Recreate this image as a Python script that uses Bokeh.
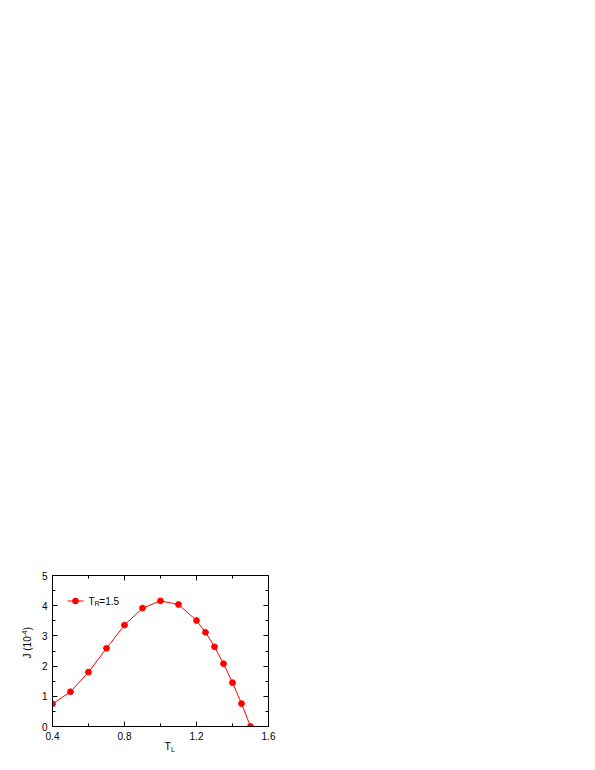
import math
from bokeh.plotting import figure
from bokeh.models import Range1d, FixedTicker, LinearAxis, Label
from bokeh.embed import file_html
from bokeh.resources import INLINE

# ---- data ----
t_left = [0.4, 0.5, 0.6, 0.7, 0.8, 0.9, 1.0, 1.1, 1.2, 1.25, 1.3, 1.35, 1.4, 1.45, 1.5]
current = [0.75, 1.15, 1.80, 2.59, 3.36, 3.92, 4.16, 4.04, 3.51, 3.12, 2.64, 2.08, 1.45, 0.76, 0.0]
x_major = [0.4, 0.8, 1.2, 1.6]
x_minor = [0.6, 1.0, 1.4]
y_major = [0, 1, 2, 3, 4, 5]
y_minor = [0.5, 1.5, 2.5, 3.5, 4.5]
series_label = ("T", "R", "=1.5")
x_title = ("T", "L")
y_title = ("J (10", "-4", ")")

FONT = "Liberation Sans"
RED = "#ff0000"

# frame geometry (page px)
FL, FR, FT, FB = 52, 268, 575, 726
XMIN, XMAX, YMIN, YMAX = 0.4, 1.6, 0.0, 5.0

p = figure(output_backend="svg", toolbar_location=None,
           frame_width=FR - FL, frame_height=FB - FT,
           min_border_left=FL, min_border_top=FT,
           min_border_right=20, min_border_bottom=36,
           x_range=Range1d(XMIN, XMAX), y_range=Range1d(YMIN, YMAX))
p.background_fill_color = "white"
p.border_fill_color = "white"
p.outline_line_color = "black"
p.outline_line_width = 1
p.xgrid.visible = False
p.ygrid.visible = False

def px2x(px):
    return XMIN + (px - FL) * (XMAX - XMIN) / (FR - FL)

def py2y(py):
    return YMIN + (FB - py) * (YMAX - YMIN) / (FB - FT)

def style_axis(ax, major, minor, labels=True):
    ax.ticker = FixedTicker(ticks=major, minor_ticks=minor)
    ax.major_tick_in = 5
    ax.major_tick_out = 0
    ax.minor_tick_in = 3
    ax.minor_tick_out = 0
    ax.axis_line_color = "black"
    ax.major_tick_line_color = "black"
    ax.minor_tick_line_color = "black"
    if labels:
        ax.major_label_text_font = FONT
        ax.major_label_text_font_size = "10px"
        ax.major_label_text_color = "black"
        ax.major_label_standoff = 5
    else:
        ax.major_label_text_color = None
        ax.major_label_text_font_size = "1px"
        ax.major_label_standoff = 0

style_axis(p.xaxis[0], x_major, x_minor)
style_axis(p.yaxis[0], y_major, y_minor)
p.xaxis[0].major_label_overrides = {0.4: "0.4", 0.8: "0.8", 1.2: "1.2", 1.6: "1.6"}

top = LinearAxis()
style_axis(top, x_major, x_minor, labels=False)
p.add_layout(top, "above")
right = LinearAxis()
style_axis(right, y_major, y_minor, labels=False)
p.add_layout(right, "right")

# ---- data series ----
p.line(t_left, current, line_color=RED, line_width=1)
p.scatter(t_left, current, marker="circle", size=5.8, fill_color=RED, line_color=RED)

def lab(text, px, py, size, angle=0.0, place="center"):
    # (px, py): left end of text, vertical middle of the text line (page px)
    l = Label(x=px2x(px), y=py2y(py), text=text, text_font=FONT,
              text_font_size=size, text_color="black", angle=angle,
              text_align="left", text_baseline="middle")
    p.add_layout(l, place)

# x-axis title T_L (side panel, not clipped by frame)
lab(x_title[0], 164, 745.5, "10.5px", place="below")
lab(x_title[1], 170.5, 749, "7px", place="below")

# y-axis title J (10^-4), rotated
a = math.pi / 2
lab(y_title[0], 27, 658, "10px", angle=a, place="left")
lab(y_title[1], 23.5, 636, "7px", angle=a, place="left")
lab(y_title[2], 27, 629.8, "10px", angle=a, place="left")

# legend sample
lx = [px2x(67), px2x(83)]
ly = [py2y(600.5), py2y(600.5)]
p.line(lx, ly, line_color=RED, line_width=1)
p.scatter([px2x(75)], [py2y(600.5)], marker="circle", size=5.8, fill_color=RED, line_color=RED)
lab(series_label[0], 88, 600.5, "10px")
lab(series_label[1], 94, 603, "7px")
lab(series_label[2], 98.8, 600.5, "10px")

open("out.html", "w").write(file_html(p, INLINE))
